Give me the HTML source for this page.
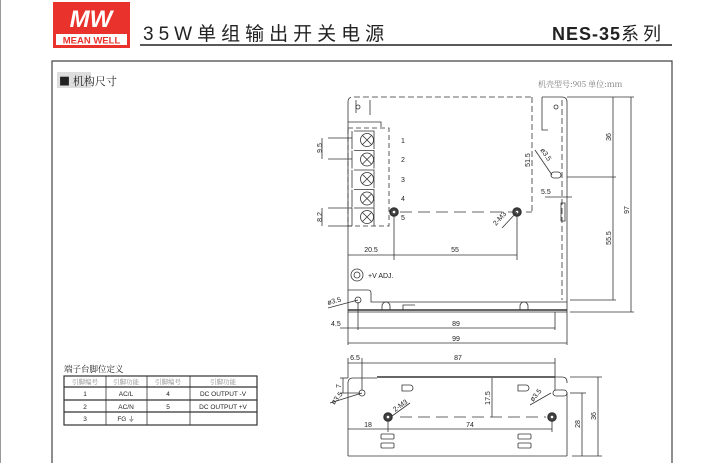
<!DOCTYPE html>
<html><head><meta charset="utf-8"><style>
body{margin:0;background:#fff;width:720px;height:463px;overflow:hidden}
svg{display:block}
text{font-family:"Liberation Sans","Noto Sans CJK SC",sans-serif;fill:#222}
.s{font-size:7px}
.c{font-family:"Noto Serif CJK SC","Noto Sans CJK SC",serif}
</style></head><body>
<svg width="720" height="463" viewBox="0 0 720 463" xmlns="http://www.w3.org/2000/svg">
<line x1="0.5" y1="0" x2="0.5" y2="463" stroke="#999"/>
<!-- logo -->
<rect x="53" y="2" width="77" height="46" fill="#e8322b"/>
<text x="91" y="27" font-size="24" font-style="italic" font-weight="bold" text-anchor="middle" style="fill:#fff">MW</text>
<rect x="56" y="34" width="71" height="11" fill="#fff"/>
<text x="91.5" y="43.5" font-size="9.5" font-weight="bold" text-anchor="middle" style="fill:#e8322b">MEAN WELL</text>
<text x="143" y="40" font-size="19" letter-spacing="5">35W单组输出开关电源</text>
<text x="552" y="40" font-size="18" font-weight="bold" letter-spacing="1">NES-35<tspan font-weight="normal" letter-spacing="4">系列</tspan></text>
<line x1="140" y1="45" x2="672" y2="45" stroke="#222" stroke-width="1.5"/>
<!-- frame -->
<path d="M52 463V61H672V463" fill="none" stroke="#444" stroke-width="1.2"/>
<rect x="57" y="72" width="34" height="16" fill="#ddd"/>
<text x="59" y="85" font-size="11" class="c">■ 机构尺寸</text>
<text x="538" y="87" font-size="8" style="fill:#777" class="c">机壳型号:905 单位:mm</text>

<g stroke="#333" stroke-width="0.8" fill="none">
<!-- top view -->
<path d="M348 102Q348 97 353 97H532" stroke-dasharray="6 3"/>
<path d="M542 97H562Q567 97 567 102V312"/>
<path d="M348 102V312H567" />
<line x1="348" y1="310" x2="567" y2="310" stroke-width="1.5"/>
<path d="M348 122H381V127"/>
<line x1="356" y1="100" x2="356" y2="113"/><line x1="370" y1="100" x2="370" y2="115"/>
<circle cx="358" cy="107" r="2"/>
<path d="M542 97V130H548" /><path d="M562 100V300" stroke-dasharray="6 3"/>
<circle cx="556" cy="107" r="2"/>
<rect x="348" y="128" width="41" height="98" stroke-dasharray="5 3"/>
<g id="sc">
<circle cx="367" cy="140" r="6.5"/><path d="M362.5 135.5l9 9M371.5 135.5l-9 9"/>
<path d="M352 131v18M354 131h20v18"/>
</g>
<use href="#sc" y="19.5"/><use href="#sc" y="39"/><use href="#sc" y="58.5"/><use href="#sc" y="77"/>
<line x1="532" y1="97" x2="532" y2="212" stroke-dasharray="6 3"/>
<line x1="400" y1="212" x2="532" y2="212" stroke-dasharray="12 6"/>
<circle cx="394" cy="212" r="4" stroke-width="1.5" fill="#444"/><circle cx="394" cy="212" r="1.3" fill="#fff" stroke="none"/>
<circle cx="517" cy="212" r="4" stroke-width="1.5" fill="#444"/><circle cx="517" cy="212" r="1.3" fill="#fff" stroke="none"/>
<path d="M502 228L517 212"/>
<path d="M535 150L552 175"/>
<rect x="551" y="172" width="10" height="6" rx="3"/>
<rect x="561" y="203" width="4" height="18"/>
<line x1="394" y1="216" x2="394" y2="260"/><line x1="517" y1="216" x2="517" y2="260"/>
<line x1="348" y1="255" x2="517" y2="255"/>
<line x1="328" y1="138" x2="352" y2="138"/><line x1="328" y1="159" x2="352" y2="159"/><line x1="322" y1="138" x2="322" y2="159"/>
<line x1="328" y1="208" x2="352" y2="208"/><line x1="328" y1="226" x2="352" y2="226"/><line x1="322" y1="208" x2="322" y2="226"/>
<line x1="545" y1="197" x2="572" y2="197"/>
<circle cx="357" cy="275" r="6"/><circle cx="357" cy="275" r="3"/>
<path d="M348 290H368Q371 290 371 293V302H567"/>
<circle cx="358" cy="300" r="3"/>
<path d="M328 308L358 300"/>
<path d="M382 310v-4a4 4 0 0 1 8 0v4M403 310v-5h12M520 310v-4a4 4 0 0 1 8 0v4"/>
<line x1="567" y1="177" x2="616" y2="177"/><line x1="567" y1="97" x2="634" y2="97"/>
<line x1="570" y1="300" x2="616" y2="300"/><line x1="570" y1="312" x2="634" y2="312"/>
<line x1="613" y1="97" x2="613" y2="300"/><line x1="631" y1="97" x2="631" y2="312"/>
<line x1="348" y1="312" x2="348" y2="345"/><line x1="358" y1="302" x2="358" y2="330"/><line x1="555" y1="312" x2="555" y2="330"/><line x1="567" y1="312" x2="567" y2="345"/>
<line x1="340" y1="328" x2="555" y2="328"/>
<line x1="348" y1="343" x2="567" y2="343"/>
<!-- side view -->
<path d="M348 456V383Q348 378 353 378H377M377 377H555"/>
<line x1="377" y1="377" x2="555" y2="377" stroke-width="1.5"/>
<path d="M567 456H348M567 456V392M567 383V382Q567 377 562 377H555"/>
<circle cx="362" cy="393" r="3"/>
<rect x="553" y="390" width="14" height="6" rx="3"/>
<circle cx="388" cy="417" r="4" stroke-width="1.5" fill="#444"/><circle cx="388" cy="417" r="1.3" fill="#fff" stroke="none"/>
<circle cx="552" cy="417" r="4" stroke-width="1.5" fill="#444"/><circle cx="552" cy="417" r="1.3" fill="#fff" stroke="none"/>
<line x1="400" y1="417" x2="546" y2="417" stroke-dasharray="12 6"/>
<line x1="492" y1="378" x2="492" y2="417"/>
<path d="M402 385h8a3 3 0 0 1 0 6h-8z M518 385h8a3 3 0 0 1 0 6h-8z"/>
<rect x="381" y="434" width="13" height="5" rx="1"/><rect x="381" y="443" width="13" height="5" rx="1"/>
<rect x="518" y="434" width="13" height="5" rx="1"/><rect x="518" y="443" width="13" height="5" rx="1"/>
<path d="M330 403L362 393M530 405L551 393M392 416L410 403"/>
<line x1="348" y1="363" x2="555" y2="363"/><line x1="348" y1="358" x2="348" y2="378"/><line x1="362" y1="358" x2="362" y2="390"/><line x1="555" y1="358" x2="555" y2="390"/>
<line x1="340" y1="378" x2="348" y2="378"/><line x1="340" y1="393" x2="360" y2="393"/><line x1="343" y1="378" x2="343" y2="393"/>
<line x1="348" y1="429" x2="552" y2="429"/><line x1="388" y1="421" x2="388" y2="432"/><line x1="552" y1="421" x2="552" y2="432"/>
<line x1="570" y1="393" x2="586" y2="393"/><line x1="570" y1="377" x2="602" y2="377"/><line x1="572" y1="456" x2="602" y2="456"/>
<line x1="582" y1="393" x2="582" y2="456"/><line x1="598" y1="377" x2="598" y2="456"/>
<!-- table -->
<rect x="64" y="376" width="193" height="49" stroke-width="1.2"/>
<line x1="64" y1="387" x2="257" y2="387" stroke-width="1.2"/><line x1="64" y1="400" x2="257" y2="400" stroke-width="1.2"/><line x1="64" y1="412" x2="257" y2="412" stroke-width="1.2"/>
<line x1="106" y1="376" x2="106" y2="425"/><line x1="147" y1="376" x2="147" y2="425"/><line x1="190" y1="376" x2="190" y2="425"/>
</g>
<g class="s">
<text x="401" y="143">1</text><text x="401" y="162">2</text><text x="401" y="182">3</text><text x="401" y="201">4</text><text x="401" y="220">5</text>
<text transform="translate(322 148) rotate(-90)" text-anchor="middle">9.5</text>
<text transform="translate(322 217) rotate(-90)" text-anchor="middle">8.2</text>
<text x="371" y="252" text-anchor="middle">20.5</text><text x="455" y="252" text-anchor="middle">55</text>
<text transform="translate(530 160) rotate(-90)" text-anchor="middle">51.5</text>
<text transform="translate(540 150) rotate(55)">ø3.5</text>
<text transform="translate(496 226) rotate(-48)">2-M3</text>
<text x="541" y="194">5.5</text>
<text transform="translate(611 137) rotate(-90)" text-anchor="middle">36</text>
<text transform="translate(611 238) rotate(-90)" text-anchor="middle">55.5</text>
<text transform="translate(629 210) rotate(-90)" text-anchor="middle">97</text>
<text x="368" y="278">+V ADJ.</text>
<text transform="translate(328 305) rotate(-15)">ø3.5</text>
<text x="331" y="326">4.5</text><text x="456" y="326" text-anchor="middle">89</text><text x="456" y="341" text-anchor="middle">99</text>
<text x="355" y="360" text-anchor="middle">6.5</text><text x="458" y="360" text-anchor="middle">87</text>
<text transform="translate(341 386) rotate(-90)" text-anchor="middle">7</text>
<text transform="translate(490 398) rotate(-90)" text-anchor="middle">17.5</text>
<text x="368" y="427" text-anchor="middle">18</text><text x="470" y="427" text-anchor="middle">74</text>
<text transform="translate(334 405) rotate(-50)">ø3.5</text>
<text transform="translate(533 402) rotate(-50)">ø3.5</text>
<text transform="translate(395 412) rotate(-35)">2-M3</text>
<text transform="translate(580 424) rotate(-90)" text-anchor="middle">28</text>
<text transform="translate(596 416) rotate(-90)" text-anchor="middle">36</text>
</g>
<text x="64" y="372" font-size="8.5" class="c">端子台脚位定义</text>
<g font-size="6.5" text-anchor="middle">
<text x="85" y="384" class="c" style="fill:#888">引脚编号</text><text x="126" y="384" class="c" style="fill:#888">引脚功能</text><text x="168" y="384" class="c" style="fill:#888">引脚编号</text><text x="223" y="384" class="c" style="fill:#888">引脚功能</text>
<text x="85" y="396">1</text><text x="126" y="396">AC/L</text><text x="168" y="396">4</text><text x="223" y="396">DC OUTPUT -V</text>
<text x="85" y="409">2</text><text x="126" y="409">AC/N</text><text x="168" y="409">5</text><text x="223" y="409">DC OUTPUT +V</text>
<text x="85" y="421">3</text><text x="126" y="421">FG ⏚</text>
</g>
</svg>
</body></html>
